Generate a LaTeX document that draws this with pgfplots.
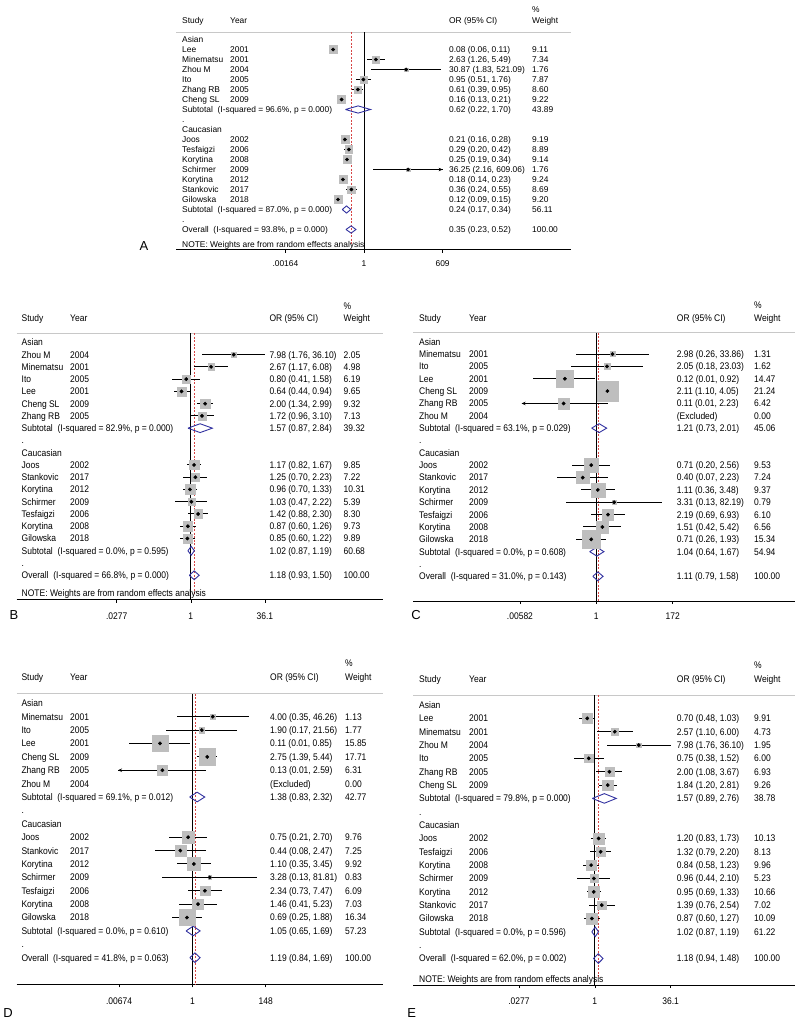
\documentclass[border=0pt]{standalone}
\usepackage{pgfplots}
\pgfplotsset{compat=1.18}
\usepackage{pgfplotstable}
\usepackage{fontspec}
\setmainfont{Liberation Sans}
\newfontfamily\narrowfont[FakeStretch=0.885]{Liberation Sans}
\usetikzlibrary{arrows.meta}

\definecolor{boxgray}{RGB}{190,190,190}
\definecolor{diablue}{RGB}{50,50,160}
\definecolor{refred}{RGB}{215,70,70}
\definecolor{hdrgray}{RGB}{200,200,200}

\newcommand\fA{\fontsize{8.4}{10}\selectfont}
\newcommand\fB{\narrowfont\fontsize{9.6}{11}\selectfont}
\newcommand\fL{\fontsize{13}{15}\selectfont}

\tikzset{lab/.style={anchor=base west, inner sep=0pt, font=\labfont, yshift=-\labdy}}

% column positions (px from the OR=1 line), font, half cap height
\newcommand\setpanel[6]{\gdef\cS{#1}\gdef\cY{#2}\gdef\cO{#3}\gdef\cW{#4}\gdef\labfont{#5}\gdef\labdy{#6}}
\newcommand\frow[5]{%
  \node[lab] at (axis cs:\cS,#1) {#2};
  \node[lab] at (axis cs:\cY,#1) {#3};
  \node[lab] at (axis cs:\cO,#1) {#4};
  \node[lab] at (axis cs:\cW,#1) {#5};}
\newcommand\header{%
  \frow{0.95}{Study}{Year}{OR (95\% CI)}{Weight}
  \node[lab] at (axis cs:\cW,2) {\%};}

% boxes, CI lines and point estimates; #1 px per decade, #2 table, #3 box factor
\newcommand\studies[3]{%
  \addplot[scatter, only marks, mark=square*, boxgray,
    mark options={draw=boxgray, fill=boxgray},
    scatter/use mapped color={draw=boxgray, fill=boxgray},
    visualization depends on={#3*sqrt(\thisrow{w}) \as \boxhalf},
    scatter/@pre marker code/.append style={/tikz/mark size=\boxhalf}]
    table[x expr={#1*log10(\thisrow{or})}, y=k] {#2};
  \addplot[only marks, mark=*, mark size=1.7pt, black,
    error bars/.cd, x dir=both, x explicit, error mark=none,
    error bar style={line width=1pt, black}]
    table[x expr={#1*log10(\thisrow{or})}, y=k,
      x error plus expr={#1*(log10(\thisrow{hi})-log10(\thisrow{or}))},
      x error minus expr={#1*(log10(\thisrow{or})-log10(\thisrow{lo}))}] {#2};
}

\pgfplotsset{
  ormap/.style={x filter/.expression={#1*log10(x)}},
  dia/.style={draw=diablue, line width=0.9pt, line join=miter},
  refline/.style={refred, line width=0.6pt, dash pattern=on 2pt off 1.5pt},
  arrowci/.style={black, line width=1pt, -{Stealth[length=4pt,width=3.5pt]}},
  forest/.style={
    anchor=south west, x=1pt, enlargelimits=false, clip=false,
    axis x line*=bottom, axis y line=none, ytick=\empty,
    tick align=outside, major tick length=3pt, minor tick num=0,
    axis line style={black, line width=0.7pt},
    xtick style={black, line width=0.6pt},
    ymin=-22, ymax=2.6,
  },
}

\pgfplotstableread{
k or lo hi w
-2 0.08 0.06 0.11 9.11
-3 2.63 1.26 5.49 7.34
-4 30.87 1.83 521.09 1.76
-5 0.95 0.51 1.76 7.87
-6 0.61 0.39 0.95 8.60
-7 0.16 0.13 0.21 9.22
-11 0.21 0.16 0.28 9.19
-12 0.29 0.20 0.42 8.89
-13 0.25 0.19 0.34 9.14
-14 36.25 2.16 609.06 1.76
-15 0.18 0.14 0.23 9.24
-16 0.36 0.24 0.55 8.69
-17 0.12 0.09 0.15 9.20
}\tabA

\pgfplotstableread{
k or lo hi w
-2 7.98 1.76 36.10 2.05
-3 2.67 1.17 6.08 4.98
-4 0.80 0.41 1.58 6.19
-5 0.64 0.44 0.94 9.65
-6 2.00 1.34 2.99 9.32
-7 1.72 0.96 3.10 7.13
-11 1.17 0.82 1.67 9.85
-12 1.25 0.70 2.23 7.22
-13 0.96 0.70 1.33 10.31
-14 1.03 0.47 2.22 5.39
-15 1.42 0.88 2.30 8.30
-16 0.87 0.60 1.26 9.73
-17 0.85 0.60 1.22 9.89
}\tabB

\pgfplotstableread{
k or lo hi w
-2 2.98 0.26 33.86 1.31
-3 2.05 0.18 23.03 1.62
-4 0.12 0.014 0.92 14.47
-5 2.11 1.10 4.05 21.24
-6 0.11 0.0065 2.23 6.42
-11 0.71 0.20 2.56 9.53
-12 0.40 0.07 2.23 7.24
-13 1.11 0.36 3.48 9.37
-14 3.31 0.13 82.19 0.79
-15 2.19 0.69 6.93 6.10
-16 1.51 0.42 5.42 6.56
-17 0.71 0.26 1.93 15.34
}\tabC

\pgfplotstableread{
k or lo hi w
-2 4.00 0.35 46.26 1.13
-3 1.90 0.17 21.56 1.77
-4 0.11 0.013 0.85 15.85
-5 2.75 1.39 5.44 17.71
-6 0.13 0.0063 2.59 6.31
-11 0.75 0.21 2.70 9.76
-12 0.44 0.08 2.47 7.25
-13 1.10 0.35 3.45 9.92
-14 3.28 0.13 81.81 0.83
-15 2.34 0.73 7.47 6.09
-16 1.46 0.41 5.23 7.03
-17 0.69 0.25 1.88 16.34
}\tabD

\pgfplotstableread{
k or lo hi w
-2 0.70 0.48 1.03 9.91
-3 2.57 1.10 6.00 4.73
-4 7.98 1.76 36.10 1.95
-5 0.75 0.38 1.52 6.00
-6 2.00 1.08 3.67 6.93
-7 1.84 1.20 2.81 9.26
-11 1.20 0.83 1.73 10.13
-12 1.32 0.79 2.20 8.13
-13 0.84 0.58 1.23 9.96
-14 0.96 0.44 2.10 5.23
-15 0.95 0.69 1.33 10.66
-16 1.39 0.76 2.54 7.02
-17 0.87 0.60 1.27 10.09
}\tabE

\begin{document}
\begin{tikzpicture}
\path[use as bounding box] (0,0) rectangle (800pt,-1023pt);

%% ---------------- A ----------------
\setpanel{-182}{-134}{85}{168}{\fA}{3.0pt}
\begin{axis}[forest, at={(176pt,-249.5pt)}, y=10pt, xmin=-188, xmax=207,
  xtick={-78.64,0,78.64}, xticklabels={.00164,1,609},
  xticklabel style={font=\fA, anchor=base, yshift=-13.5pt}]
  \addplot[hdrgray, line width=0.8pt] coordinates {(-188,-0.27) (207,-0.27)};
  \addplot[black, line width=1pt] coordinates {(0,-0.27) (0,-22)};
  \addplot[refline, ormap=28.24] coordinates {(0.35,-0.27) (0.35,-21.5)};
  \studies{28.24}{\tabA}{1.28}
  \addplot[arrowci, ormap=28.24] coordinates {(36.25,-14) (609.06,-14)};
  \addplot[dia, ormap=28.24] coordinates {(0.22,-8) (0.62,-7.64) (1.70,-8) (0.62,-8.36) (0.22,-8)};
  \addplot[dia, ormap=28.24] coordinates {(0.17,-18) (0.24,-17.64) (0.34,-18) (0.24,-18.36) (0.17,-18)};
  \addplot[dia, ormap=28.24] coordinates {(0.23,-20) (0.35,-19.64) (0.52,-20) (0.35,-20.36) (0.23,-20)};
  \header
  \frow{-1}{Asian}{}{}{}
  \frow{-2}{Lee}{2001}{0.08 (0.06, 0.11)}{9.11}
  \frow{-3}{Minematsu}{2001}{2.63 (1.26, 5.49)}{7.34}
  \frow{-4}{Zhou M}{2004}{30.87 (1.83, 521.09)}{1.76}
  \frow{-5}{Ito}{2005}{0.95 (0.51, 1.76)}{7.87}
  \frow{-6}{Zhang RB}{2005}{0.61 (0.39, 0.95)}{8.60}
  \frow{-7}{Cheng SL}{2009}{0.16 (0.13, 0.21)}{9.22}
  \frow{-8}{Subtotal\ \ (I-squared = 96.6\%, p = 0.000)}{}{0.62 (0.22, 1.70)}{43.89}
  \frow{-9}{.}{}{}{}
  \frow{-10}{Caucasian}{}{}{}
  \frow{-11}{Joos}{2002}{0.21 (0.16, 0.28)}{9.19}
  \frow{-12}{Tesfaigzi}{2006}{0.29 (0.20, 0.42)}{8.89}
  \frow{-13}{Korytina}{2008}{0.25 (0.19, 0.34)}{9.14}
  \frow{-14}{Schirmer}{2009}{36.25 (2.16, 609.06)}{1.76}
  \frow{-15}{Korytina}{2012}{0.18 (0.14, 0.23)}{9.24}
  \frow{-16}{Stankovic}{2017}{0.36 (0.24, 0.55)}{8.69}
  \frow{-17}{Gilowska}{2018}{0.12 (0.09, 0.15)}{9.20}
  \frow{-18}{Subtotal\ \ (I-squared = 87.0\%, p = 0.000)}{}{0.24 (0.17, 0.34)}{56.11}
  \frow{-19}{.}{}{}{}
  \frow{-20}{Overall\ \ (I-squared = 93.8\%, p = 0.000)}{}{0.35 (0.23, 0.52)}{100.00}
  \frow{-21.5}{NOTE: Weights are from random effects analysis}{}{}{}
  \node[font=\fL] at (axis cs:-220,-21.65) {A};
\end{axis}

%% ---------------- B ----------------
\setpanel{-169.3}{-120.8}{78.5}{152.7}{\fB}{3.44pt}
\begin{axis}[forest, at={(16.7pt,-599.8pt)}, y=12.26pt, xmin=-174.1, xmax=192.2,
  xtick={-74.14,0,74.14}, xticklabels={.0277,1,36.1},
  xticklabel style={font=\fB, anchor=base, yshift=-16.9pt}]
  \addplot[hdrgray, line width=0.8pt] coordinates {(-174.1,-0.27) (192.2,-0.27)};
  \addplot[black, line width=1pt] coordinates {(0,-0.27) (0,-22)};
  \addplot[refline, ormap=47.6] coordinates {(1.18,-0.27) (1.18,-21.5)};
  \studies{47.6}{\tabB}{1.5}
  \addplot[dia, ormap=47.6] coordinates {(0.87,-8) (1.57,-7.64) (2.84,-8) (1.57,-8.36) (0.87,-8)};
  \addplot[dia, ormap=47.6] coordinates {(0.87,-18) (1.02,-17.64) (1.19,-18) (1.02,-18.36) (0.87,-18)};
  \addplot[dia, ormap=47.6] coordinates {(0.93,-20) (1.18,-19.64) (1.50,-20) (1.18,-20.36) (0.93,-20)};
  \header
  \frow{-1}{Asian}{}{}{}
  \frow{-2}{Zhou M}{2004}{7.98 (1.76, 36.10)}{2.05}
  \frow{-3}{Minematsu}{2001}{2.67 (1.17, 6.08)}{4.98}
  \frow{-4}{Ito}{2005}{0.80 (0.41, 1.58)}{6.19}
  \frow{-5}{Lee}{2001}{0.64 (0.44, 0.94)}{9.65}
  \frow{-6}{Cheng SL}{2009}{2.00 (1.34, 2.99)}{9.32}
  \frow{-7}{Zhang RB}{2005}{1.72 (0.96, 3.10)}{7.13}
  \frow{-8}{Subtotal\ \ (I-squared = 82.9\%, p = 0.000)}{}{1.57 (0.87, 2.84)}{39.32}
  \frow{-9}{.}{}{}{}
  \frow{-10}{Caucasian}{}{}{}
  \frow{-11}{Joos}{2002}{1.17 (0.82, 1.67)}{9.85}
  \frow{-12}{Stankovic}{2017}{1.25 (0.70, 2.23)}{7.22}
  \frow{-13}{Korytina}{2012}{0.96 (0.70, 1.33)}{10.31}
  \frow{-14}{Schirmer}{2009}{1.03 (0.47, 2.22)}{5.39}
  \frow{-15}{Tesfaigzi}{2006}{1.42 (0.88, 2.30)}{8.30}
  \frow{-16}{Korytina}{2008}{0.87 (0.60, 1.26)}{9.73}
  \frow{-17}{Gilowska}{2018}{0.85 (0.60, 1.22)}{9.89}
  \frow{-18}{Subtotal\ \ (I-squared = 0.0\%, p = 0.595)}{}{1.02 (0.87, 1.19)}{60.68}
  \frow{-19}{.}{}{}{}
  \frow{-20}{Overall\ \ (I-squared = 66.8\%, p = 0.000)}{}{1.18 (0.93, 1.50)}{100.00}
  \frow{-21.42}{NOTE: Weights are from random effects analysis}{}{}{}
  \node[font=\fL] at (axis cs:-176.8,-23.24) {B};
\end{axis}

%% ---------------- C ----------------
\setpanel{-177.3}{-127.3}{80.4}{157.7}{\fB}{3.44pt}
\begin{axis}[forest, at={(413.3pt,-601.05pt)}, y=12.35pt, xmin=-183, xmax=198.7,
  xtick={-76.34,0,76.34}, xticklabels={.00582,1,172},
  xticklabel style={font=\fB, anchor=base, yshift=-15.7pt}]
  \addplot[hdrgray, line width=0.8pt] coordinates {(-183,-0.27) (198.7,-0.27)};
  \addplot[black, line width=1pt] coordinates {(0,-0.27) (0,-22)};
  \addplot[refline, ormap=34.15] coordinates {(1.11,-0.27) (1.11,-22)};
  \studies{34.15}{\tabC}{2.25}
  \addplot[arrowci, ormap=34.15] coordinates {(0.11,-6) (0.0065,-6)};
  \addplot[dia, ormap=34.15] coordinates {(0.73,-8) (1.21,-7.64) (2.01,-8) (1.21,-8.36) (0.73,-8)};
  \addplot[dia, ormap=34.15] coordinates {(0.64,-18) (1.04,-17.64) (1.67,-18) (1.04,-18.36) (0.64,-18)};
  \addplot[dia, ormap=34.15] coordinates {(0.79,-20) (1.11,-19.64) (1.58,-20) (1.11,-20.36) (0.79,-20)};
  \header
  \frow{-1}{Asian}{}{}{}
  \frow{-2}{Minematsu}{2001}{2.98 (0.26, 33.86)}{1.31}
  \frow{-3}{Ito}{2005}{2.05 (0.18, 23.03)}{1.62}
  \frow{-4}{Lee}{2001}{0.12 (0.01, 0.92)}{14.47}
  \frow{-5}{Cheng SL}{2009}{2.11 (1.10, 4.05)}{21.24}
  \frow{-6}{Zhang RB}{2005}{0.11 (0.01, 2.23)}{6.42}
  \frow{-7}{Zhou M}{2004}{(Excluded)}{0.00}
  \frow{-8}{Subtotal\ \ (I-squared = 63.1\%, p = 0.029)}{}{1.21 (0.73, 2.01)}{45.06}
  \frow{-9}{.}{}{}{}
  \frow{-10}{Caucasian}{}{}{}
  \frow{-11}{Joos}{2002}{0.71 (0.20, 2.56)}{9.53}
  \frow{-12}{Stankovic}{2017}{0.40 (0.07, 2.23)}{7.24}
  \frow{-13}{Korytina}{2012}{1.11 (0.36, 3.48)}{9.37}
  \frow{-14}{Schirmer}{2009}{3.31 (0.13, 82.19)}{0.79}
  \frow{-15}{Tesfaigzi}{2006}{2.19 (0.69, 6.93)}{6.10}
  \frow{-16}{Korytina}{2008}{1.51 (0.42, 5.42)}{6.56}
  \frow{-17}{Gilowska}{2018}{0.71 (0.26, 1.93)}{15.34}
  \frow{-18}{Subtotal\ \ (I-squared = 0.0\%, p = 0.608)}{}{1.04 (0.64, 1.67)}{54.94}
  \frow{-19}{.}{}{}{}
  \frow{-20}{Overall\ \ (I-squared = 31.0\%, p = 0.143)}{}{1.11 (0.79, 1.58)}{100.00}
  \node[font=\fL] at (axis cs:-180.3,-23.1) {C};
\end{axis}

%% ---------------- D ----------------
\setpanel{-171.1}{-122.4}{77.6}{152.6}{\fB}{3.44pt}
\begin{axis}[forest, at={(16.7pt,-984.48pt)}, y=13.39pt, xmin=-175.7, xmax=190.6,
  xtick={-73.36,0,73.36}, xticklabels={.00674,1,148},
  xticklabel style={font=\fB, anchor=base, yshift=-17.2pt}]
  \addplot[hdrgray, line width=0.8pt] coordinates {(-175.7,-0.27) (190.6,-0.27)};
  \addplot[black, line width=1pt] coordinates {(0,-0.27) (0,-22)};
  \addplot[refline, ormap=33.8] coordinates {(1.19,-0.27) (1.19,-22)};
  \studies{33.8}{\tabD}{2.0}
  \addplot[arrowci, ormap=33.8] coordinates {(0.13,-6) (0.0063,-6)};
  \addplot[dia, ormap=33.8] coordinates {(0.83,-8) (1.38,-7.64) (2.32,-8) (1.38,-8.36) (0.83,-8)};
  \addplot[dia, ormap=33.8] coordinates {(0.65,-18) (1.05,-17.64) (1.69,-18) (1.05,-18.36) (0.65,-18)};
  \addplot[dia, ormap=33.8] coordinates {(0.84,-20) (1.19,-19.64) (1.69,-20) (1.19,-20.36) (0.84,-20)};
  \header
  \frow{-1}{Asian}{}{}{}
  \frow{-2}{Minematsu}{2001}{4.00 (0.35, 46.26)}{1.13}
  \frow{-3}{Ito}{2005}{1.90 (0.17, 21.56)}{1.77}
  \frow{-4}{Lee}{2001}{0.11 (0.01, 0.85)}{15.85}
  \frow{-5}{Cheng SL}{2009}{2.75 (1.39, 5.44)}{17.71}
  \frow{-6}{Zhang RB}{2005}{0.13 (0.01, 2.59)}{6.31}
  \frow{-7}{Zhou M}{2004}{(Excluded)}{0.00}
  \frow{-8}{Subtotal\ \ (I-squared = 69.1\%, p = 0.012)}{}{1.38 (0.83, 2.32)}{42.77}
  \frow{-9}{.}{}{}{}
  \frow{-10}{Caucasian}{}{}{}
  \frow{-11}{Joos}{2002}{0.75 (0.21, 2.70)}{9.76}
  \frow{-12}{Stankovic}{2017}{0.44 (0.08, 2.47)}{7.25}
  \frow{-13}{Korytina}{2012}{1.10 (0.35, 3.45)}{9.92}
  \frow{-14}{Schirmer}{2009}{3.28 (0.13, 81.81)}{0.83}
  \frow{-15}{Tesfaigzi}{2006}{2.34 (0.73, 7.47)}{6.09}
  \frow{-16}{Korytina}{2008}{1.46 (0.41, 5.23)}{7.03}
  \frow{-17}{Gilowska}{2018}{0.69 (0.25, 1.88)}{16.34}
  \frow{-18}{Subtotal\ \ (I-squared = 0.0\%, p = 0.610)}{}{1.05 (0.65, 1.69)}{57.23}
  \frow{-19}{.}{}{}{}
  \frow{-20}{Overall\ \ (I-squared = 41.8\%, p = 0.063)}{}{1.19 (0.84, 1.69)}{100.00}
  \node[font=\fL] at (axis cs:-184.4,-24.1) {D};
\end{axis}

%% ---------------- E ----------------
\setpanel{-175.8}{-125.8}{81.9}{159.2}{\fB}{3.44pt}
\begin{axis}[forest, at={(413.3pt,-985.18pt)}, y=13.34pt, xmin=-181.5, xmax=200.2,
  xtick={-75.85,0,75.85}, xticklabels={.0277,1,36.1},
  xticklabel style={font=\fB, anchor=base, yshift=-16.5pt}]
  \addplot[hdrgray, line width=0.8pt] coordinates {(-181.5,-0.27) (200.2,-0.27)};
  \addplot[black, line width=1pt] coordinates {(0,-0.27) (0,-22)};
  \addplot[refline, ormap=48.7] coordinates {(1.18,-0.27) (1.18,-21.5)};
  \studies{48.7}{\tabE}{1.65}
  \addplot[dia, ormap=48.7] coordinates {(0.89,-8) (1.57,-7.64) (2.76,-8) (1.57,-8.36) (0.89,-8)};
  \addplot[dia, ormap=48.7] coordinates {(0.87,-18) (1.02,-17.64) (1.19,-18) (1.02,-18.36) (0.87,-18)};
  \addplot[dia, ormap=48.7] coordinates {(0.94,-20) (1.18,-19.64) (1.48,-20) (1.18,-20.36) (0.94,-20)};
  \header
  \frow{-1}{Asian}{}{}{}
  \frow{-2}{Lee}{2001}{0.70 (0.48, 1.03)}{9.91}
  \frow{-3}{Minematsu}{2001}{2.57 (1.10, 6.00)}{4.73}
  \frow{-4}{Zhou M}{2004}{7.98 (1.76, 36.10)}{1.95}
  \frow{-5}{Ito}{2005}{0.75 (0.38, 1.52)}{6.00}
  \frow{-6}{Zhang RB}{2005}{2.00 (1.08, 3.67)}{6.93}
  \frow{-7}{Cheng SL}{2009}{1.84 (1.20, 2.81)}{9.26}
  \frow{-8}{Subtotal\ \ (I-squared = 79.8\%, p = 0.000)}{}{1.57 (0.89, 2.76)}{38.78}
  \frow{-9}{.}{}{}{}
  \frow{-10}{Caucasian}{}{}{}
  \frow{-11}{Joos}{2002}{1.20 (0.83, 1.73)}{10.13}
  \frow{-12}{Tesfaigzi}{2006}{1.32 (0.79, 2.20)}{8.13}
  \frow{-13}{Korytina}{2008}{0.84 (0.58, 1.23)}{9.96}
  \frow{-14}{Schirmer}{2009}{0.96 (0.44, 2.10)}{5.23}
  \frow{-15}{Korytina}{2012}{0.95 (0.69, 1.33)}{10.66}
  \frow{-16}{Stankovic}{2017}{1.39 (0.76, 2.54)}{7.02}
  \frow{-17}{Gilowska}{2018}{0.87 (0.60, 1.27)}{10.09}
  \frow{-18}{Subtotal\ \ (I-squared = 0.0\%, p = 0.596)}{}{1.02 (0.87, 1.19)}{61.22}
  \frow{-19}{.}{}{}{}
  \frow{-20}{Overall\ \ (I-squared = 62.0\%, p = 0.002)}{}{1.18 (0.94, 1.48)}{100.00}
  \frow{-21.54}{NOTE: Weights are from random effects analysis}{}{}{}
  \node[font=\fL] at (axis cs:-183.1,-24.06) {E};
\end{axis}
\end{tikzpicture}
\end{document}
